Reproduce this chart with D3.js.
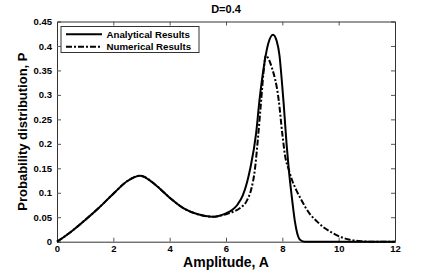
<!DOCTYPE html>
<html>
<head>
<meta charset="utf-8">
<script src="https://cdn.jsdelivr.net/npm/d3@7"></script>
<style>
  body { margin: 0; background: #fff; }
  text { font-family: "Liberation Sans", Arial, sans-serif; font-weight: bold; fill: #000; }
</style>
</head>
<body>
<div id="chart-container"></div>
<script>
// analytical curve (A, P)
const analyticalA = [0, 0.5, 1, 1.5, 2, 2.5, 2.95, 3.5, 4, 4.5, 5, 5.5, 6, 6.2, 6.4, 6.6, 6.75, 6.87, 7.07, 7.19, 7.35, 7.5, 7.67, 7.8, 7.9, 7.98, 8.05, 8.15, 8.23, 8.35, 8.45, 8.53, 8.65, 8.8, 9.5, 12];
const analyticalP = [0, 0.0205, 0.0445, 0.07, 0.098, 0.124, 0.135, 0.116, 0.09, 0.068, 0.056, 0.051, 0.058, 0.064, 0.075, 0.095, 0.122, 0.152, 0.222, 0.29, 0.36, 0.405, 0.423, 0.41, 0.38, 0.33, 0.28, 0.2, 0.147, 0.085, 0.04, 0.017, 0.003, 0, 0, 0];

// numerical curve (A, P)
const numericalA = [0, 0.5, 1, 1.5, 2, 2.5, 2.95, 3.5, 4, 4.5, 5, 5.5, 6, 6.25, 6.5, 6.75, 6.9, 7.02, 7.14, 7.25, 7.33, 7.41, 7.62, 7.87, 8.0, 8.1, 8.23, 8.35, 8.5, 8.65, 9.0, 9.22, 9.5, 9.81, 10.1, 10.4, 10.8, 11.2, 12];
const numericalP = [0, 0.0205, 0.0445, 0.07, 0.098, 0.124, 0.135, 0.116, 0.09, 0.068, 0.056, 0.051, 0.056, 0.061, 0.069, 0.085, 0.108, 0.145, 0.215, 0.29, 0.345, 0.38, 0.357, 0.29, 0.22, 0.175, 0.147, 0.125, 0.105, 0.088, 0.055, 0.042, 0.028, 0.017, 0.009, 0.004, 0.001, 0, 0];

const xTicks = [0, 2, 4, 6, 8, 10, 12];
const yTicks = [0, 0.05, 0.1, 0.15, 0.2, 0.25, 0.3, 0.35, 0.4, 0.45];
const seriesNames = ['Analytical Results', 'Numerical Results'];

const width = 436, height = 273;
const margin = { top: 21.5, right: 41, bottom: 31.3, left: 57 };
const w = width - margin.left - margin.right;
const h = height - margin.top - margin.bottom;

const svg = d3.select('#chart-container')
  .append('svg')
  .attr('width', width)
  .attr('height', height);

const g = svg.append('g')
  .attr('transform', `translate(${margin.left},${margin.top})`);

const xScale = d3.scaleLinear().domain([0, 12]).range([0, w]);
const yScale = d3.scaleLinear().domain([0, 0.45]).range([h, 0]);

const fmt = d => d === 0 ? '0' : String(+d.toFixed(2));

// axes, ticks pointing inward like matlab
g.append('g')
  .attr('transform', `translate(0,${h})`)
  .call(d3.axisBottom(xScale).tickValues(xTicks).tickSize(-4).tickPadding(5).tickFormat(fmt))
  .call(a => a.selectAll('text').attr('font-size', 9.5).attr('dy', '0.55em'));
g.append('g')
  .call(d3.axisTop(xScale).tickValues(xTicks).tickSize(-4).tickFormat(''));
g.append('g')
  .call(d3.axisLeft(yScale).tickValues(yTicks).tickSize(-4).tickPadding(5).tickFormat(fmt))
  .call(a => a.selectAll('text').attr('font-size', 9.5));
g.append('g')
  .attr('transform', `translate(${w},0)`)
  .call(d3.axisRight(yScale).tickValues(yTicks).tickSize(-4).tickFormat(''));

g.selectAll('.domain').attr('stroke', '#333').attr('stroke-width', 1);
g.selectAll('.tick line').attr('stroke', '#555');
g.selectAll('.tick text').attr('font-family', '"Liberation Sans", Arial, sans-serif').attr('font-weight', 'bold').attr('fill', '#000');
g.selectAll('.tick').filter(d => d === 0 || d === 12 || d === 0.45).select('line').remove();

const line = d3.line()
  .x(d => xScale(d[0]))
  .y(d => yScale(d[1]))
  .curve(d3.curveMonotoneX);

const numData = numericalA.map((a, i) => [a, numericalP[i]]);
const anaData = analyticalA.map((a, i) => [a, analyticalP[i]]);

g.append('path')
  .datum(numData)
  .attr('fill', 'none')
  .attr('stroke', '#000')
  .attr('stroke-width', 2)
  .attr('stroke-dasharray', '6,2,2,2')
  .attr('d', line);

g.append('path')
  .datum(anaData)
  .attr('fill', 'none')
  .attr('stroke', '#000')
  .attr('stroke-width', 2)
  .attr('d', line);

// legend
const legend = g.append('g').attr('transform', 'translate(4,5)');
legend.append('rect')
  .attr('width', 138).attr('height', 26)
  .attr('fill', '#fff').attr('stroke', '#333').attr('stroke-width', 1);
seriesNames.forEach((name, i) => {
  const yy = 7.8 + i * 12.4;
  legend.append('line')
    .attr('x1', 5).attr('x2', 41).attr('y1', yy).attr('y2', yy)
    .attr('stroke', '#000').attr('stroke-width', 2)
    .attr('stroke-dasharray', i === 1 ? '6,2,2,2' : null);
  legend.append('text')
    .attr('x', 45.5).attr('y', yy).attr('dy', '0.35em')
    .attr('font-size', 9.7)
    .text(name);
});

// title and axis labels
svg.append('text')
  .attr('x', margin.left + w / 2).attr('y', 13)
  .attr('text-anchor', 'middle').attr('font-size', 11)
  .text('D=0.4');

svg.append('text')
  .attr('x', margin.left + w / 2).attr('y', 267)
  .attr('text-anchor', 'middle').attr('font-size', 14)
  .text('Amplitude, A');

svg.append('text')
  .attr('transform', `translate(27,${margin.top + h / 2}) rotate(-90)`)
  .attr('text-anchor', 'middle').attr('font-size', 13)
  .text('Probability distribution, P');
</script>
</body>
</html>
